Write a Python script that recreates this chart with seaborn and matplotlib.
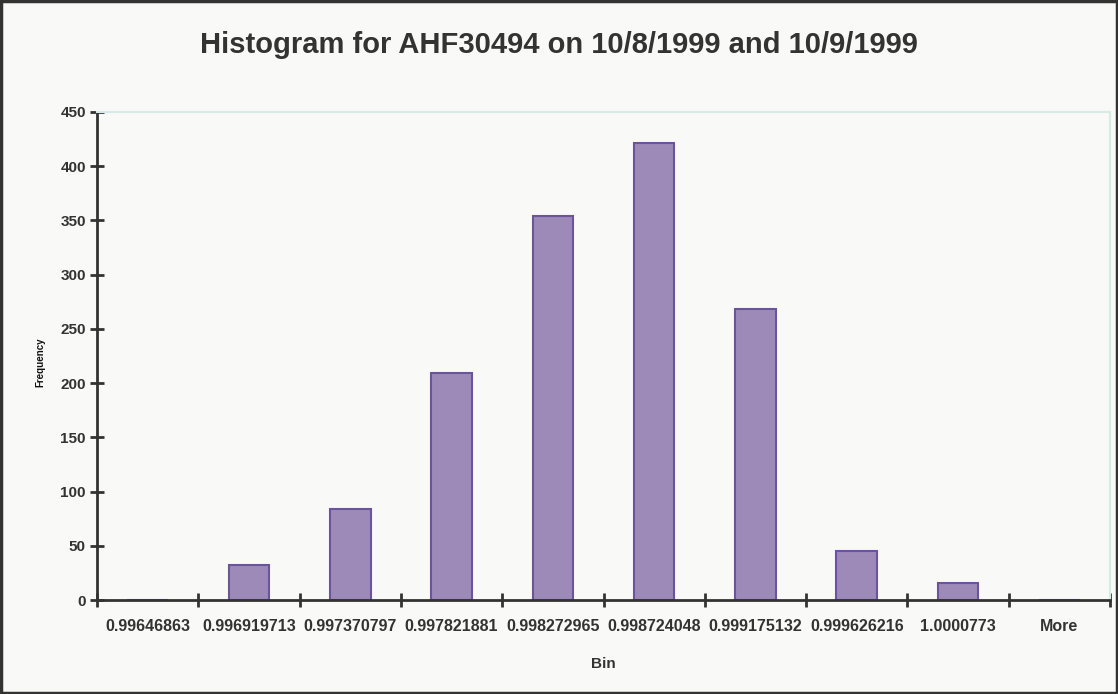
import numpy as np
import pandas as pd
import matplotlib
matplotlib.use("Agg")
import matplotlib.pyplot as plt
from matplotlib.patches import Rectangle
import seaborn as sns

# Histogram bins and counts
bins = ["0.99646863", "0.996919713", "0.997370797", "0.997821881", "0.998272965",
        "0.998724048", "0.999175132", "0.999626216", "1.0000773", "More"]
counts = [0, 32, 84, 209, 354, 421, 268, 45, 16, 0]
y_ticks = [0, 50, 100, 150, 200, 250, 300, 350, 400, 450]

BG = "#f9f9f7"
BAR = "#9e8ab8"
BAR_EDGE = "#6a559c"
AXIS = "#333333"

sns.set_style("white")
plt.rcParams["font.family"] = ["Liberation Sans", "DejaVu Sans"]
plt.rcParams["font.weight"] = "bold"

df = pd.DataFrame({"Bin": bins, "Frequency": counts})

fig = plt.figure(figsize=(11.18, 6.94), dpi=100, facecolor=BG)
ax = fig.add_axes([97 / 1118, 1 - 600 / 694, (1110 - 97) / 1118, (600 - 112) / 694])
ax.set_facecolor(BG)

sns.barplot(data=df, x="Bin", y="Frequency", color=BAR, width=0.4,
            edgecolor=BAR_EDGE, linewidth=1.5, saturation=1, ax=ax)

ax.set_xlim(-0.5, len(bins) - 0.5)
ax.set_ylim(0, 450)
ax.set_yticks(y_ticks)
ax.set_yticklabels([str(v) for v in y_ticks], fontsize=11, fontweight="bold", color=AXIS)

# category labels at centers, tick marks at bin boundaries
ax.set_xticks(np.arange(len(bins)))
ax.set_xticklabels(bins, fontsize=11.5, fontweight="bold", color=AXIS)
ax.set_xticks(np.arange(-0.5, len(bins)), minor=True)
ax.tick_params(axis="x", which="major", bottom=True, length=0, pad=14)
ax.tick_params(axis="x", which="minor", bottom=True, direction="inout",
               length=10, width=2, color=AXIS)
ax.tick_params(axis="y", which="major", left=True, direction="inout",
               length=10, width=2, color=AXIS, pad=3)

for side in ["left", "bottom"]:
    ax.spines[side].set_color(AXIS)
    ax.spines[side].set_linewidth(2)
for side in ["top", "right"]:
    ax.spines[side].set_visible(True)
    ax.spines[side].set_color("#d6ebe8")
    ax.spines[side].set_linewidth(1.5)

ax.set_xlabel("Bin", fontsize=11, fontweight="bold", color=AXIS, labelpad=16)
ax.set_ylabel("")
fig.text(40 / 1118, 1 - 362 / 694, "Frequency", rotation=90, fontsize=7,
         fontweight="bold", color="#111111", ha="center", va="center")

fig.suptitle("Histogram for AHF30494 on 10/8/1999 and 10/9/1999",
             fontsize=21, fontweight="bold", color=AXIS, y=1 - 45 / 694, va="center")

# outer chart border
fig.patches.append(Rectangle((0.001, 0.001), 0.998, 0.997, transform=fig.transFigure,
                             fill=False, edgecolor=AXIS, linewidth=2.5))

fig.savefig("out.png", dpi=100, facecolor=BG)
